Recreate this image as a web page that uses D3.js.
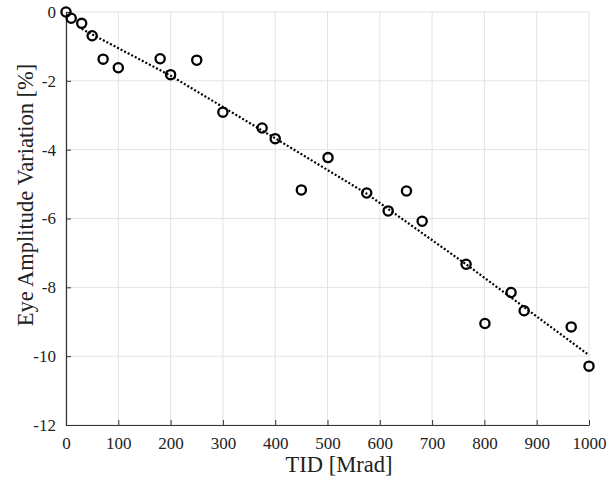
<!DOCTYPE html>
<html>
<head>
<meta charset="utf-8">
<script src="https://cdn.jsdelivr.net/npm/d3@7"></script>
<style>
  body { margin: 0; background: #fff; }
  svg text { font-family: "Liberation Serif", "Times New Roman", serif; fill: #222; }
</style>
</head>
<body>
<svg id="chart" width="607" height="479"></svg>
<script>
// measured points
const tid = [0, 10, 30, 50, 71, 100, 180, 200, 250, 300, 375, 400, 450, 501, 575, 616, 651, 681, 765, 801, 851, 876, 966, 1000];
const amp = [0, -0.18, -0.33, -0.69, -1.37, -1.62, -1.36, -1.82, -1.40, -2.91, -3.37, -3.68, -5.17, -4.23, -5.26, -5.78, -5.20, -6.08, -7.33, -9.05, -8.15, -8.68, -9.15, -10.29];

// fit line
const fitX = [30, 200, 400, 575, 765, 1000];
const fitY = [-0.49, -1.85, -3.67, -5.28, -7.33, -9.97];

const xTicks = [0, 100, 200, 300, 400, 500, 600, 700, 800, 900, 1000];
const yTicks = [0, -2, -4, -6, -8, -10, -12];

const serif = '"Liberation Serif", "Times New Roman", serif';

const margin = { top: 12, right: 18, bottom: 54, left: 66 };
const width = 607 - margin.left - margin.right;
const height = 479 - margin.top - margin.bottom;

const svg = d3.select('#chart');
const g = svg.append('g')
  .attr('transform', `translate(${margin.left},${margin.top})`);

const x = d3.scaleLinear().domain([0, 1000]).range([0, width]);
const y = d3.scaleLinear().domain([-12, 0]).range([height, 0]);

// grid
g.append('g')
  .selectAll('line')
  .data(xTicks)
  .enter().append('line')
  .attr('x1', d => x(d)).attr('x2', d => x(d))
  .attr('y1', 0).attr('y2', height)
  .attr('stroke', '#e3e3e3');

g.append('g')
  .selectAll('line')
  .data(yTicks)
  .enter().append('line')
  .attr('x1', 0).attr('x2', width)
  .attr('y1', d => y(d)).attr('y2', d => y(d))
  .attr('stroke', '#e3e3e3');

// axes, ticks pointing inward
const xAxis = g.append('g')
  .attr('transform', `translate(0,${height})`)
  .call(d3.axisBottom(x).tickValues(xTicks).tickFormat(d => String(d))
    .tickSizeInner(-5).tickSizeOuter(0).tickPadding(12));

const yAxis = g.append('g')
  .call(d3.axisLeft(y).tickValues(yTicks).tickFormat(d => d === 0 ? '0' : '-' + Math.abs(d))
    .tickSizeInner(-5).tickSizeOuter(0).tickPadding(10));

[xAxis, yAxis].forEach(a => {
  a.attr('font-family', serif).attr('font-size', 17);
  a.select('.domain').attr('stroke', '#333').attr('stroke-width', 1.2);
  a.selectAll('.tick line').attr('stroke', '#333');
  a.selectAll('.tick text')
    .style('font-family', serif)
    .style('font-size', '17px')
    .attr('fill', '#222');
});

// fitted trend
const line = d3.line()
  .x(d => x(d[0]))
  .y(d => y(d[1]));

g.append('path')
  .datum(fitX.map((v, i) => [v, fitY[i]]))
  .attr('d', line)
  .attr('fill', 'none')
  .attr('stroke', '#000')
  .attr('stroke-width', 2.2)
  .attr('stroke-dasharray', '2,2');

// markers
g.append('g')
  .selectAll('circle')
  .data(tid.map((v, i) => [v, amp[i]]))
  .enter().append('circle')
  .attr('cx', d => x(d[0]))
  .attr('cy', d => y(d[1]))
  .attr('r', 4.6)
  .attr('fill', 'none')
  .attr('stroke', '#000')
  .attr('stroke-width', 2.3);

// labels
svg.append('text')
  .attr('x', 339)
  .attr('y', 472)
  .attr('text-anchor', 'middle')
  .style('font-family', serif)
  .style('font-size', '22.5px')
  .text('TID [Mrad]');

svg.append('text')
  .attr('transform', 'translate(33,195) rotate(-90)')
  .attr('text-anchor', 'middle')
  .style('font-family', serif)
  .style('font-size', '22.5px')
  .text('Eye Amplitude Variation [%]');
</script>
</body>
</html>
